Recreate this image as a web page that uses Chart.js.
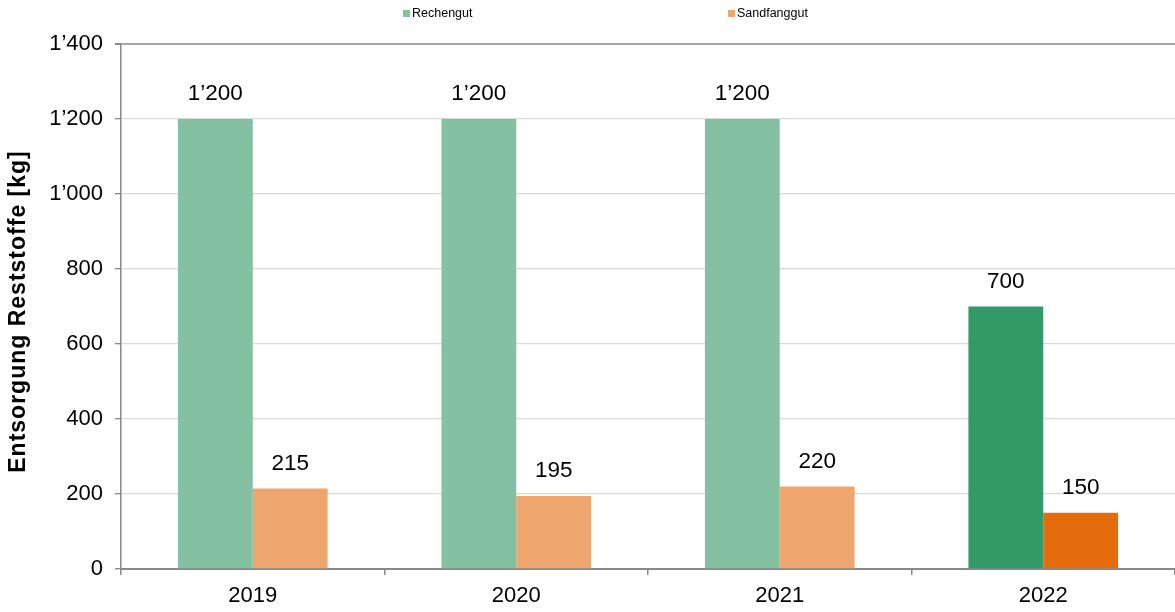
<!DOCTYPE html>
<html>
<head>
<meta charset="utf-8">
<script src="https://cdn.jsdelivr.net/npm/chart.js@4/dist/chart.umd.min.js"></script>
<style>
  body { margin: 0; background: #fff; }
  #wrap { width: 1175px; height: 612px; }
</style>
</head>
<body>
<div id="wrap"><canvas id="chart"></canvas></div>
<script>
const jahre = ['2019', '2020', '2021', '2022'];
const rechengut = [1200, 1200, 1200, 700];
const sandfanggut = [215, 195, 220, 150];
const yTicks = [0, 200, 400, 600, 800, 1000, 1200, 1400];
const yTitel = 'Entsorgung Reststoffe [kg]';

// Farben: Vorjahre hell, aktuelles Jahr kräftig
const gruenHell = '#84c1a3', gruenDunkel = '#339966';
const orangeHell = '#eea66f', orangeDunkel = '#e46c0a';
const schrift = '"Liberation Sans", Arial, sans-serif';

// Tausendertrennzeichen mit Apostroph
function fmt(v) {
  return String(v).replace(/\B(?=(\d{3})+(?!\d))/g, '\u2019');
}

// Werte über den Balken
const wertLabels = {
  id: 'wertLabels',
  afterDatasetsDraw(chart) {
    const ctx = chart.ctx;
    ctx.save();
    ctx.font = '22.5px ' + schrift;
    ctx.fillStyle = '#000';
    ctx.textAlign = 'center';
    ctx.textBaseline = 'middle';
    chart.data.datasets.forEach((ds, i) => {
      chart.getDatasetMeta(i).data.forEach((bar, j) => {
        ctx.fillText(fmt(ds.data[j]), bar.x, bar.y - 25);
      });
    });
    ctx.restore();
  }
};

// Legende oben, weit auseinander wie im Original
const legende = {
  id: 'legende',
  afterDraw(chart) {
    const ctx = chart.ctx;
    const pos = [403, 728];
    ctx.save();
    ctx.font = '12.5px ' + schrift;
    ctx.textBaseline = 'middle';
    ctx.textAlign = 'left';
    chart.data.datasets.forEach((ds, i) => {
      ctx.fillStyle = ds.legendColor;
      ctx.fillRect(pos[i], 10, 7, 7);
      ctx.fillStyle = '#000';
      ctx.fillText(ds.label, pos[i] + 9, 14);
    });
    ctx.restore();
  }
};

// Y-Achsentitel, gesperrt gesetzt wie im Excel-Original
const achsenTitel = {
  id: 'achsenTitel',
  afterDraw(chart) {
    const ctx = chart.ctx;
    const area = chart.chartArea;
    ctx.save();
    ctx.translate(19, (area.top + area.bottom) / 2 + 5);
    ctx.rotate(-Math.PI / 2);
    ctx.font = 'bold 23px ' + schrift;
    if ('letterSpacing' in ctx) ctx.letterSpacing = '1px';
    ctx.fillStyle = '#000';
    ctx.textAlign = 'center';
    ctx.textBaseline = 'middle';
    ctx.fillText(yTitel, 0, 0);
    ctx.restore();
  }
};

new Chart(document.getElementById('chart'), {
  type: 'bar',
  data: {
    labels: jahre,
    datasets: [
      {
        label: 'Rechengut',
        data: rechengut,
        legendColor: gruenHell,
        backgroundColor: jahre.map((j, i) => i === jahre.length - 1 ? gruenDunkel : gruenHell)
      },
      {
        label: 'Sandfanggut',
        data: sandfanggut,
        legendColor: orangeHell,
        backgroundColor: jahre.map((j, i) => i === jahre.length - 1 ? orangeDunkel : orangeHell)
      }
    ]
  },
  options: {
    responsive: true,
    maintainAspectRatio: false,
    animation: false,
    layout: { padding: { top: 44, right: 0, bottom: 0, left: 0 } },
    datasets: { bar: { categoryPercentage: 0.568, barPercentage: 1.0 } },
    plugins: { legend: { display: false }, tooltip: { enabled: false } },
    scales: {
      x: {
        offset: true,
        grid: { offset: true, drawOnChartArea: false, tickLength: 6, color: '#888', lineWidth: 1.5 },
        border: { color: '#888', width: 2 },
        ticks: { color: '#000', padding: 8, font: { family: schrift, size: 22 } },
        afterFit(scale) { scale.height = 43; }
      },
      y: {
        min: 0,
        max: 1400,
        afterBuildTicks(scale) { scale.ticks = yTicks.map(v => ({ value: v })); },
        grid: {
          tickLength: 6,
          tickColor: '#888',
          color: c => c.tick && c.tick.value === 1400 ? '#a6a6a6' : '#d9d9d9',
          lineWidth: c => c.tick && c.tick.value === 1400 ? 2 : 1.3
        },
        border: { color: '#888', width: 1.5 },
        ticks: {
          color: '#000',
          padding: 12,
          font: { family: schrift, size: 22 },
          callback: v => fmt(v)
        },
        afterFit(scale) { scale.width = 121; }
      }
    }
  },
  plugins: [wertLabels, legende, achsenTitel]
});
</script>
</body>
</html>
